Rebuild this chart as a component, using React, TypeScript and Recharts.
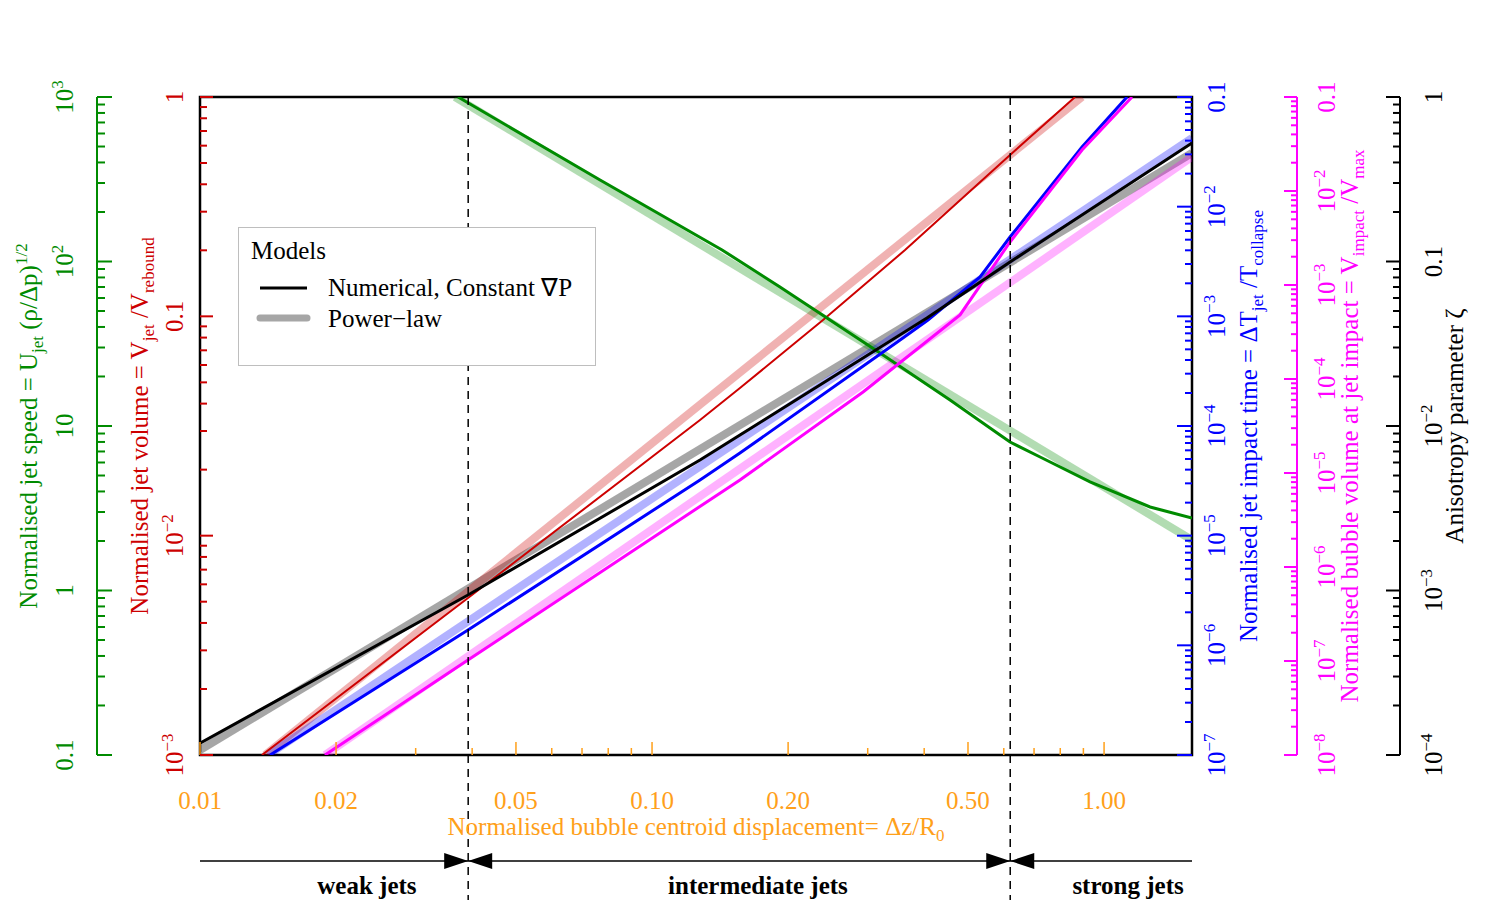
import React from 'react';
import { LineChart, Line, XAxis, YAxis, ReferenceLine, ReferenceArea, Legend } from 'recharts';

const FONT = '"Liberation Serif", "Times New Roman", serif';
const GREEN = '#008B00';
const RED = '#CD0000';
const BLUE = '#0000FF';
const MAGENTA = '#FF00FF';
const ORANGE = '#FFA01A';
const FS = 25;
const FS_SMALL = 17;

// axis ids (alphabetical order = closest to the plot first)
const ID_VOL = 'a_vol';
const ID_SPEED = 'b_speed';
const ID_TIME = 'a_time';
const ID_BUB = 'b_bub';
const ID_ANIS = 'c_anis';

// ---------- X axis ----------
const xDomain = [0.01, 1.565];
const xTicks = [0.01, 0.02, 0.03, 0.04, 0.05, 0.06, 0.07, 0.08, 0.09, 0.1, 0.2, 0.3, 0.4, 0.5, 0.6, 0.7, 0.8, 0.9, 1.0];
const xMajorTicks = [0.01, 0.02, 0.05, 0.1, 0.2, 0.5, 1.0];
const xTickLabels = ['0.01', '0.02', '0.05', '0.10', '0.20', '0.50', '1.00'];

// regime boundaries and labels
const regimeBoundaries = [0.0392, 0.62];
const regimeLabelX = [0.0234, 0.1715, 1.13];
const regimeNames = ['weak jets', 'intermediate jets', 'strong jets'];

// ---------- Y axes ----------
const speedDomain = [0.1, 1000];
const speedMajors = [0.1, 1, 10, 100, 1000];
const speedLabels = ['0.1', '1', '10', '10^2', '10^3'];

const volDomain = [0.001, 1];
const volMajors = [0.001, 0.01, 0.1, 1];
const volLabels = ['10^−3', '10^−2', '0.1', '1'];

const timeDomain = [1e-7, 0.1];
const timeMajors = [1e-7, 1e-6, 1e-5, 1e-4, 1e-3, 1e-2, 0.1];
const timeLabels = ['10^−7', '10^−6', '10^−5', '10^−4', '10^−3', '10^−2', '0.1'];

const bubDomain = [1e-8, 0.1];
const bubMajors = [1e-8, 1e-7, 1e-6, 1e-5, 1e-4, 1e-3, 1e-2, 0.1];
const bubLabels = ['10^−8', '10^−7', '10^−6', '10^−5', '10^−4', '10^−3', '10^−2', '0.1'];

const anisDomain = [1e-4, 1];
const anisMajors = [1e-4, 1e-3, 1e-2, 0.1, 1];
const anisLabels = ['10^−4', '10^−3', '10^−2', '0.1', '1'];

// ---------- Series (numerical = thin, power-law = thick) ----------
const speedNumX = [0.03722, 0.07674, 0.1429, 0.1919, 0.2438, 0.3194, 0.4563, 0.5886, 0.6194, 0.7219, 0.9311, 1.264, 1.565];
const speedNumY = [1000, 312.9, 117.5, 69.98, 45.34, 27.79, 14.39, 8.82, 7.99, 6.48, 4.57, 3.22, 2.76];
const speedPowX = [0.03665, 1.565];
const speedPowY = [1000, 2.028];

const volNumX = [0.01371, 0.03916, 0.1277, 0.1565, 0.2389, 0.3628, 0.6194, 0.8626];
const volNumY = [0.001, 0.005196, 0.03367, 0.0471, 0.0962, 0.2006, 0.544, 1.0];
const volPowX = [0.01392, 0.8938];
const volPowY = [0.001, 1.0];

const timeNumX = [0.01429, 0.03916, 0.1277, 0.1565, 0.3538, 0.4078, 0.5317, 0.6194, 0.8938, 1.124];
const timeNumY = [1e-7, 1.38e-6, 3.22e-5, 5.67e-5, 6.08e-4, 9.27e-4, 2.285e-3, 5.29e-3, 0.035, 0.1];
const timePowX = [0.01414, 1.565];
const timePowY = [1e-7, 0.04229];

const bubNumX = [0.0189, 0.03916, 0.1565, 0.293, 0.4801, 0.6194, 0.8938, 1.153];
const bubNumY = [1e-8, 1.025e-7, 8.43e-6, 7.27e-5, 4.8e-4, 2.87e-3, 0.0273, 0.1];
const bubPowX = [0.0189, 1.565];
const bubPowY = [1e-8, 0.023];

const anisNumX = [0.01, 0.03916, 0.1277, 0.1565, 0.4056, 0.6194, 1.565];
const anisNumY = [1.18e-4, 9.39e-4, 6.21e-3, 8.82e-3, 0.04534, 0.0993, 0.525];
const anisPowX = [0.01, 1.565];
const anisPowY = [1.072e-4, 0.4566];

const legendTitle = 'Models';
const legendItems = ['Numerical, Constant ∇P', 'Power−law'];

// ---------- helpers ----------
const toRows = (xs: number[], ys: number[]) => xs.map((x, i) => ({ x, v: ys[i] }));

function logTicks(lo: number, hi: number): number[] {
  const out: number[] = [];
  for (let e = lo; e <= hi; e++) {
    for (let m = 1; m <= 9; m++) {
      if (e === hi && m > 1) break;
      out.push(+(m * Math.pow(10, e)).toPrecision(6));
    }
  }
  return out;
}

const near = (a: number, b: number) => Math.abs(a - b) / Math.abs(b) < 1e-6;

function powLabel(s: string) {
  const i = s.indexOf('^');
  if (i < 0) return s;
  return [
    <tspan key="b">{s.slice(0, i)}</tspan>,
    <tspan key="e" dy={-10} fontSize={FS_SMALL}>{s.slice(i + 1)}</tspan>,
  ];
}

type Part = [string, 'n' | 'sub' | 'sup'];
function renderParts(parts: Part[]) {
  let cur = 0;
  return parts.map(([t, k], i) => {
    const target = k === 'sub' ? 6 : k === 'sup' ? -10 : 0;
    const dy = target - cur;
    cur = target;
    return (
      <tspan key={i} dy={dy} fontSize={k === 'n' ? FS : FS_SMALL}>
        {t}
      </tspan>
    );
  });
}

function makeYTick(color: string, side: 'left' | 'right', majors: number[], labels: string[], gap: number, majorLen: number, minorLen: number) {
  return (props: any) => {
    const { x, y, payload } = props;
    const v = payload.value;
    const idx = majors.findIndex((m) => near(v, m));
    const len = idx >= 0 ? majorLen : minorLen;
    const dir = side === 'left' ? 1 : -1;
    const lx = side === 'left' ? x - gap : x + gap;
    return (
      <g>
        <line x1={x} y1={y} x2={x + dir * len} y2={y} stroke={color} strokeWidth={2} />
        {idx >= 0 && (
          <text x={lx} y={y} transform={`rotate(-90 ${lx} ${y})`} textAnchor="middle" fill={color} fontSize={FS} fontFamily={FONT}>
            {powLabel(labels[idx])}
          </text>
        )}
      </g>
    );
  };
}

function makeYTitle(side: 'left' | 'right', gap: number, color: string, parts: Part[]) {
  return (p: any) => {
    const vb = p && p.viewBox ? p.viewBox : { x: 0, y: 0, width: 0, height: 0 };
    const axisX = side === 'left' ? vb.x + vb.width : vb.x;
    const bx = side === 'left' ? axisX - gap : axisX + gap;
    const cy = vb.y + vb.height / 2;
    return (
      <text x={bx} y={cy} transform={`rotate(-90 ${bx} ${cy})`} textAnchor="middle" fill={color} fontSize={FS} fontFamily={FONT}>
        {renderParts(parts)}
      </text>
    );
  };
}

const XTick = (props: any) => {
  const { x, y, payload } = props;
  const idx = xMajorTicks.findIndex((m) => near(payload.value, m));
  const len = idx >= 0 ? 13 : 7;
  return (
    <g>
      <line x1={x} y1={y} x2={x} y2={y - len} stroke={ORANGE} strokeWidth={1.5} />
      {idx >= 0 && (
        <text x={x} y={y + 54} textAnchor="middle" fill={ORANGE} fontSize={FS} fontFamily={FONT}>
          {xTickLabels[idx]}
        </text>
      )}
    </g>
  );
};

const XTitle = (p: any) => {
  const vb = p && p.viewBox ? p.viewBox : { x: 0, y: 0, width: 0, height: 0 };
  const cx = vb.x + vb.width / 2;
  return (
    <g>
      <text x={cx} y={vb.y + 80} textAnchor="middle" fill={ORANGE} fontSize={FS} fontFamily={FONT}>
        {renderParts([
          ['Normalised bubble centroid displacement= Δz/R', 'n'],
          ['0', 'sub'],
        ])}
      </text>
      <line x1={vb.x} y1={vb.y + 106} x2={vb.x + vb.width} y2={vb.y + 106} stroke="#000" strokeWidth={1.5} />
    </g>
  );
};

const BoundaryMark = (p: any) => {
  const vb = p && p.viewBox ? p.viewBox : { x: 0, y: 0, width: 0, height: 0 };
  const x = vb.x;
  const ay = vb.y + vb.height + 106;
  return (
    <g>
      <line x1={x} y1={vb.y} x2={x} y2={vb.y + vb.height + 150} stroke="#000" strokeWidth={1.5} strokeDasharray="8 6" />
      <polygon points={`${x - 24},${ay - 8} ${x},${ay} ${x - 24},${ay + 8}`} fill="#000" />
      <polygon points={`${x + 24},${ay - 8} ${x},${ay} ${x + 24},${ay + 8}`} fill="#000" />
    </g>
  );
};

const makeRegimeLabel = (name: string) => (p: any) => {
  const vb = p && p.viewBox ? p.viewBox : { x: 0, y: 0, width: 0, height: 0 };
  return (
    <text x={vb.x} y={vb.y + vb.height + 139} textAnchor="middle" fill="#000" fontWeight="bold" fontSize={FS} fontFamily={FONT}>
      {name}
    </text>
  );
};

const LegendBox = () => (
  <div style={{ width: 358, height: 139, boxSizing: 'border-box', border: '1.5px solid #BEBEBE', background: '#fff' }}>
    <svg width={356} height={136} style={{ display: 'block' }}>
      <text x={12} y={31} fontSize={FS} fontFamily={FONT} fill="#000">{legendTitle}</text>
      <line x1={21} y1={60} x2={68} y2={60} stroke="#000" strokeWidth={3} />
      <text x={89} y={68} fontSize={FS} fontFamily={FONT} fill="#000">{legendItems[0]}</text>
      <line x1={21} y1={90} x2={68} y2={90} stroke="#A6A6A6" strokeWidth={7} strokeLinecap="round" />
      <text x={89} y={99} fontSize={FS} fontFamily={FONT} fill="#000">{legendItems[1]}</text>
    </svg>
  </div>
);

const thick = 8;

export default function App() {
  return (
    <div style={{ position: 'absolute', left: 0, top: 0, width: 1500, height: 900, background: '#fff' }}>
      <LineChart width={1500} height={900} margin={{ top: 97, right: 0, bottom: 0, left: 0 }} style={{ fontFamily: FONT }}>
        <XAxis
          dataKey="x"
          type="number"
          scale="log"
          domain={xDomain}
          allowDataOverflow
          ticks={xTicks}
          interval={0}
          tick={XTick}
          tickLine={false}
          axisLine={false}
          tickSize={0}
          tickMargin={0}
          height={145}
          label={{ content: XTitle }}
        />
        <YAxis
          yAxisId={ID_VOL}
          orientation="left"
          width={103}
          scale="log"
          domain={volDomain}
          allowDataOverflow
          ticks={logTicks(-3, 0)}
          interval={0}
          tick={makeYTick(RED, 'left', volMajors, volLabels, 17, 13, 7)}
          tickLine={false}
          axisLine={false}
          tickSize={0}
          tickMargin={0}
          label={{ content: makeYTitle('left', 52, RED, [['Normalised jet volume = V', 'n'], ['jet', 'sub'], [' /V', 'n'], ['rebound', 'sub']]) }}
        />
        <YAxis
          yAxisId={ID_SPEED}
          orientation="left"
          width={97}
          scale="log"
          domain={speedDomain}
          allowDataOverflow
          ticks={logTicks(-1, 3)}
          interval={0}
          tick={makeYTick(GREEN, 'left', speedMajors, speedLabels, 24, 15, 8)}
          tickLine={false}
          axisLine={{ stroke: GREEN, strokeWidth: 2 }}
          tickSize={0}
          tickMargin={0}
          label={{ content: makeYTitle('left', 60, GREEN, [['Normalised jet speed = U', 'n'], ['jet', 'sub'], [' (ρ/Δp)', 'n'], ['1/2', 'sup']]) }}
        />
        <YAxis
          yAxisId={ID_TIME}
          orientation="right"
          width={105}
          scale="log"
          domain={timeDomain}
          allowDataOverflow
          ticks={logTicks(-7, -1)}
          interval={0}
          tick={makeYTick(BLUE, 'right', timeMajors, timeLabels, 33, 15, 7)}
          tickLine={false}
          axisLine={false}
          tickSize={0}
          tickMargin={0}
          label={{ content: makeYTitle('right', 65, BLUE, [['Normalised jet impact time = ΔT', 'n'], ['jet', 'sub'], [' /T', 'n'], ['collapse', 'sub']]) }}
        />
        <YAxis
          yAxisId={ID_BUB}
          orientation="right"
          width={103}
          scale="log"
          domain={bubDomain}
          allowDataOverflow
          ticks={logTicks(-8, -1)}
          interval={0}
          tick={makeYTick(MAGENTA, 'right', bubMajors, bubLabels, 38, 13, 6)}
          tickLine={false}
          axisLine={{ stroke: MAGENTA, strokeWidth: 2 }}
          tickSize={0}
          tickMargin={0}
          label={{ content: makeYTitle('right', 61, MAGENTA, [['Normalised bubble volume at jet impact = V', 'n'], ['impact', 'sub'], [' /V', 'n'], ['max', 'sub']]) }}
        />
        <YAxis
          yAxisId={ID_ANIS}
          orientation="right"
          width={100}
          scale="log"
          domain={anisDomain}
          allowDataOverflow
          ticks={logTicks(-4, 0)}
          interval={0}
          tick={makeYTick('#000', 'right', anisMajors, anisLabels, 42, 14, 7)}
          tickLine={false}
          axisLine={{ stroke: '#000', strokeWidth: 2 }}
          tickSize={0}
          tickMargin={0}
          label={{ content: makeYTitle('right', 63, '#000', [['Anisotropy parameter ζ', 'n']]) }}
        />

        <Legend
          layout="horizontal"
          verticalAlign="middle"
          align="center"
          wrapperStyle={{ left: 238, top: 227, width: 358, height: 139 }}
          content={() => <LegendBox />}
        />

        {/* power-law (thick, translucent) */}
        <Line yAxisId={ID_ANIS} data={toRows(anisPowX, anisPowY)} dataKey="v" stroke="#000" strokeOpacity={0.35} strokeWidth={thick} dot={false} isAnimationActive={false} legendType="none" />
        <Line yAxisId={ID_VOL} data={toRows(volPowX, volPowY)} dataKey="v" stroke={RED} strokeOpacity={0.3} strokeWidth={thick} dot={false} isAnimationActive={false} legendType="none" />
        <Line yAxisId={ID_SPEED} data={toRows(speedPowX, speedPowY)} dataKey="v" stroke={GREEN} strokeOpacity={0.3} strokeWidth={thick} dot={false} isAnimationActive={false} legendType="none" />
        <Line yAxisId={ID_TIME} data={toRows(timePowX, timePowY)} dataKey="v" stroke={BLUE} strokeOpacity={0.3} strokeWidth={thick} dot={false} isAnimationActive={false} legendType="none" />
        <Line yAxisId={ID_BUB} data={toRows(bubPowX, bubPowY)} dataKey="v" stroke={MAGENTA} strokeOpacity={0.3} strokeWidth={thick} dot={false} isAnimationActive={false} legendType="none" />

        {/* numerical (thin) */}
        <Line yAxisId={ID_VOL} data={toRows(volNumX, volNumY)} dataKey="v" stroke={RED} strokeWidth={2} dot={false} isAnimationActive={false} legendType="none" />
        <Line yAxisId={ID_SPEED} data={toRows(speedNumX, speedNumY)} dataKey="v" stroke={GREEN} strokeWidth={3} dot={false} isAnimationActive={false} legendType="none" />
        <Line yAxisId={ID_TIME} data={toRows(timeNumX, timeNumY)} dataKey="v" stroke={BLUE} strokeWidth={3} dot={false} isAnimationActive={false} legendType="none" />
        <Line yAxisId={ID_BUB} data={toRows(bubNumX, bubNumY)} dataKey="v" stroke={MAGENTA} strokeWidth={3} dot={false} isAnimationActive={false} legendType="none" />
        <Line yAxisId={ID_ANIS} data={toRows(anisNumX, anisNumY)} dataKey="v" stroke="#000" strokeWidth={3} dot={false} isAnimationActive={false} legendType="none" />

        {/* plot frame */}
        <ReferenceArea yAxisId={ID_VOL} x1={xDomain[0]} x2={xDomain[1]} y1={volDomain[0]} y2={volDomain[1]} fill="none" fillOpacity={0} stroke="#000" strokeWidth={2.5} ifOverflow="visible" />

        {/* regime boundaries */}
        {regimeBoundaries.map((b, i) => (
          <ReferenceLine key={'b' + i} yAxisId={ID_VOL} x={b} stroke="none" label={{ content: BoundaryMark }} />
        ))}
        {regimeLabelX.map((lx, i) => (
          <ReferenceLine key={'r' + i} yAxisId={ID_VOL} x={lx} stroke="none" label={{ content: makeRegimeLabel(regimeNames[i]) }} />
        ))}
      </LineChart>
    </div>
  );
}
